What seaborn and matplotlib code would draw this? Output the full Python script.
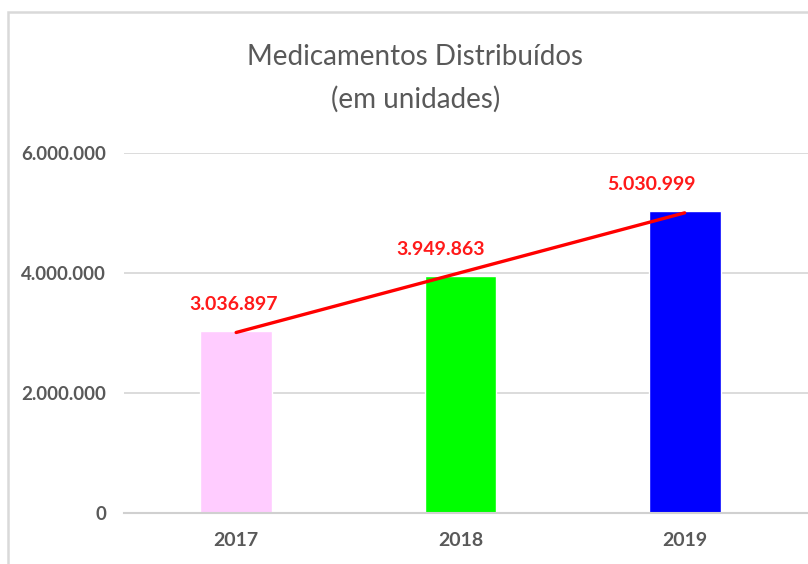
import numpy as np
import pandas as pd
import seaborn as sns
import matplotlib.pyplot as plt
from matplotlib.patches import Rectangle
from matplotlib.ticker import FuncFormatter

sns.set_style("white")
plt.rcParams['font.family'] = ['Lato', 'DejaVu Sans']

anos = ["2017", "2018", "2019"]
unidades = [3036897, 3949863, 5030999]
cores = ["#ffccff", "#00ff00", "#0000ff"]
label_dx = [-2, -14, -24]  # deslocamento dos rótulos (pt)

df = pd.DataFrame({"Ano": anos, "Unidades": unidades})


def fmt_br(v, pos=None):
    return f"{int(v):,}".replace(",", ".")


fig = plt.figure(figsize=(8.08, 5.64), dpi=100)
ax = fig.add_axes([0.1535, 0.0904, 0.8465, 0.6383])

sns.barplot(data=df, x="Ano", y="Unidades", hue="Ano", palette=cores,
            width=0.32, legend=False, ax=ax, saturation=1, zorder=2)

# linha de tendência linear (como no Excel)
xs = np.arange(len(unidades))
coef = np.polyfit(xs, unidades, 1)
ax.plot(xs, np.polyval(coef, xs), color="red", lw=2.4, zorder=3,
        solid_capstyle="round")

for i, v in enumerate(unidades):
    ax.annotate(fmt_br(v), (i, v), xytext=(label_dx[i], 13),
                textcoords="offset points", ha="center", va="bottom",
                color="#ff1a1a", fontsize=14, fontweight="bold")

ax.set_ylim(0, 6000000)
ax.set_xlim(-0.5, 2.55)
ax.set_yticks([0, 2000000, 4000000, 6000000])
ax.yaxis.set_major_formatter(FuncFormatter(fmt_br))
ax.grid(axis="y", color="#d9d9d9", lw=1.3, zorder=0)
ax.set_axisbelow(True)
for s in ["top", "right", "left"]:
    ax.spines[s].set_visible(False)
ax.spines["bottom"].set_color("#d0d0d0")
ax.spines["bottom"].set_linewidth(1.5)
ax.tick_params(axis="y", length=0, pad=13, labelsize=13.5, labelcolor="#595959")
ax.tick_params(axis="x", length=0, pad=14, labelsize=14, labelcolor="#595959")
for t in ax.get_xticklabels() + ax.get_yticklabels():
    t.set_fontweight("bold")
ax.set_xlabel("")
ax.set_ylabel("")

fig.text(0.514, 0.861, "Medicamentos Distribuídos\n(em unidades)",
         ha="center", va="center", fontsize=20, color="#595959",
         fontweight="normal", linespacing=1.75)

fig.add_artist(Rectangle((8 / 808, -0.2), 1.2, 1.2 - 12 / 564,
                         transform=fig.transFigure, fill=False,
                         edgecolor="#d9d9d9", lw=1.8))

fig.savefig("out.png", dpi=100)
